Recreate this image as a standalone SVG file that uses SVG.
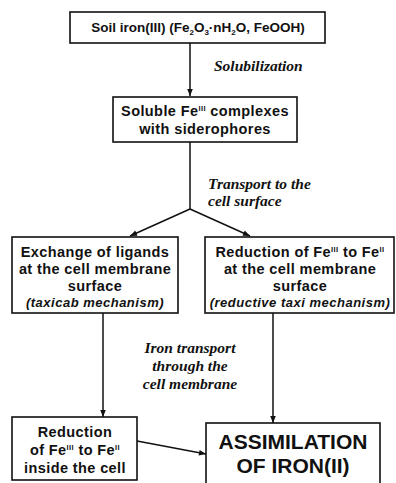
<svg xmlns="http://www.w3.org/2000/svg" width="396" height="483" viewBox="0 0 396 483">
<defs>
<marker id="ah" viewBox="0 0 10 10" refX="10" refY="5" markerWidth="9" markerHeight="7" markerUnits="userSpaceOnUse" orient="auto">
<path d="M0,1 L10,5 L0,9 z" fill="#111"/>
</marker>
<style>
.box{fill:#fff;stroke:#111;stroke-width:1.6}
.t{font-family:"Liberation Sans",Arial,sans-serif;font-weight:bold;font-size:14.5px;letter-spacing:0.4px;fill:#111;text-anchor:middle}
.t0{font-family:"Liberation Sans",Arial,sans-serif;font-weight:bold;font-size:13.5px;fill:#111;text-anchor:middle}
.ti{font-family:"Liberation Sans",Arial,sans-serif;font-weight:bold;font-style:italic;font-size:13px;fill:#111;text-anchor:middle;letter-spacing:0.5px}
.big{font-family:"Liberation Sans",Arial,sans-serif;font-weight:bold;font-size:21px;fill:#111;text-anchor:middle}
.lab{font-family:"Liberation Serif","Times New Roman",serif;font-weight:bold;font-style:italic;font-size:15.5px;fill:#111}
.sup{font-size:7.5px}
.sub{font-size:8px}
.c{fill:none;stroke:#111;stroke-width:1.5}
</style>
</defs>
<g id="connectors">
<line class="c" x1="190" y1="43" x2="190" y2="96" marker-end="url(#ah)"/>
<line class="c" x1="190" y1="142" x2="190" y2="209"/>
<line class="c" x1="190" y1="209" x2="130" y2="236" marker-end="url(#ah)"/>
<line class="c" x1="190" y1="209" x2="250" y2="236" marker-end="url(#ah)"/>
<line class="c" x1="103" y1="313" x2="103" y2="417" marker-end="url(#ah)"/>
<line class="c" x1="273" y1="313" x2="273" y2="423" marker-end="url(#ah)"/>
<line class="c" x1="137" y1="441" x2="206" y2="454" marker-end="url(#ah)"/>
<text class="lab" x="214" y="71">Solubilization</text>
<text class="lab" x="208" y="189">Transport to the</text>
<text class="lab" x="208" y="206">cell surface</text>
<text class="lab" x="190" y="353" text-anchor="middle">Iron transport</text>
<text class="lab" x="190" y="371" text-anchor="middle">through the</text>
<text class="lab" x="190" y="389" text-anchor="middle">cell membrane</text>
</g>
<g id="soil">
<rect class="box" x="70" y="12" width="255" height="31"/>
<text class="t0" x="198" y="32">Soil iron(III) (Fe<tspan class="sub" dy="3">2</tspan><tspan dy="-3">O</tspan><tspan class="sub" dy="3">3</tspan><tspan dy="-3">·nH</tspan><tspan class="sub" dy="3">2</tspan><tspan dy="-3">O, FeOOH)</tspan></text>
</g>
<g id="soluble">
<rect class="box" x="113" y="97" width="184" height="45"/>
<text class="t" x="205" y="116">Soluble Fe<tspan class="sup" dy="-5">III</tspan><tspan dy="5"> complexes</tspan></text>
<text class="t" x="205" y="134">with siderophores</text>
</g>
<g id="exchange">
<rect class="box" x="12" y="237" width="166" height="76"/>
<text class="t" x="95" y="257">Exchange of ligands</text>
<text class="t" x="95" y="274">at the cell membrane</text>
<text class="t" x="95" y="291">surface</text>
<text class="ti" x="95" y="307">(taxicab mechanism)</text>
</g>
<g id="reduction-surface">
<rect class="box" x="205" y="237" width="189" height="76"/>
<text class="t" x="300" y="257">Reduction of Fe<tspan class="sup" dy="-5">III</tspan><tspan dy="5"> to Fe</tspan><tspan class="sup" dy="-5">II</tspan></text>
<text class="t" x="300" y="274">at the cell membrane</text>
<text class="t" x="300" y="291">surface</text>
<text class="ti" x="300" y="307">(reductive taxi mechanism)</text>
</g>
<g id="reduction-inside">
<rect class="box" x="12" y="417" width="125" height="63"/>
<text class="t" x="75" y="437">Reduction</text>
<text class="t" x="75" y="455">of Fe<tspan class="sup" dy="-5">III</tspan><tspan dy="5"> to Fe</tspan><tspan class="sup" dy="-5">II</tspan></text>
<text class="t" x="75" y="473">inside the cell</text>
</g>
<g id="assimilation">
<rect class="box" x="206" y="423" width="174" height="62"/>
<text class="big" x="293" y="449">ASSIMILATION</text>
<text class="big" x="293" y="473">OF IRON(II)</text>
</g>
</svg>
